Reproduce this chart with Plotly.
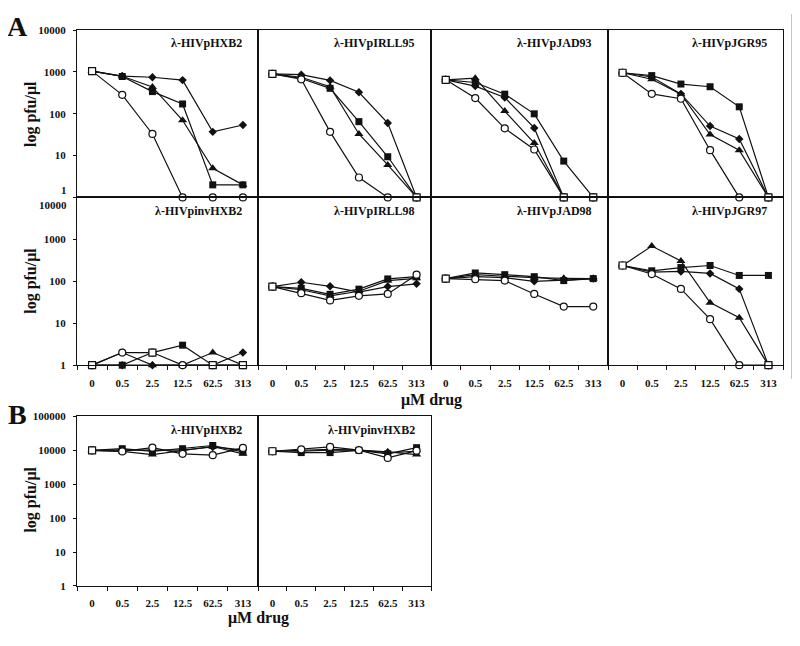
import plotly.graph_objects as go

# The page adds an 8px body margin; the figure is sized so that page == 800x646.
OFF = 8
W, H = 800 - 2 * OFF, 646 - 2 * OFF


def px(x):
    return (x - OFF) / W


def py(y):
    return 1 - (y - OFF) / H


# ---------------- data ----------------
doses = ["0", "0.5", "2.5", "12.5", "62.5", "313"]
xi = [0, 1, 2, 3, 4, 5]

panel_titles = ["λ-HIVpHXB2", "λ-HIVpIRLL95", "λ-HIVpJAD93", "λ-HIVpJGR95",
                "λ-HIVpinvHXB2", "λ-HIVpIRLL98", "λ-HIVpJAD98", "λ-HIVpJGR97",
                "λ-HIVpHXB2", "λ-HIVpinvHXB2"]

# Panel A, row 1
hxb2_dia = [1050, 800, 750, 640, 37, 54]
hxb2_sq = [1050, 780, 340, 172, 2, 2]
hxb2_tri = [1050, 790, 440, 70, 5, 2]
hxb2_circ = [1050, 284, 33, 1, 1, 1]
hxb2_osq = [1050, None, None, None, None, None]

irll95_dia = [900, 865, 630, 328, 60, 1]
irll95_sq = [900, 700, 407, 65, 9.4, 1]
irll95_tri = [900, 750, 444, 33, 6, 1]
irll95_circ = [900, 670, 37, 3, 1, 1]
irll95_osq = [900, None, None, None, None, 1]

jad93_dia = [650, 460, 246, 46, 1, 1]
jad93_sq = [650, 560, 295, 100, 7.4, 1]
jad93_tri = [650, 710, 116, 20, 1, 1]
jad93_circ = [650, 238, 45, 14, 1, 1]
jad93_osq = [650, None, None, None, 1, 1]

jgr95_dia = [960, 760, 300, 51, 25, 1]
jgr95_sq = [960, 820, 515, 444, 147, 1]
jgr95_tri = [960, 672, 295, 32, 13.5, 1]
jgr95_circ = [960, 300, 229, 13.5, 1, 1]
jgr95_osq = [960, None, None, None, None, 1]

# Panel A, row 2
invhxb2_dia = [1, 1, 1, 1, 1, 2]
invhxb2_sq = [1, 1, 2, 3, 1, 1]
invhxb2_tri = [1, 2, 1, 1, 2, 1]
invhxb2_circ = [1, 2, 2, 1, 1, 1]
invhxb2_osq = [1, None, 2, None, 1, 1]

irll98_dia = [75, 95, 76, 55, 75, 87]
irll98_sq = [75, 68, 49, 65, 114, 129]
irll98_tri = [75, 63, 45, 58, 104, 118]
irll98_circ = [75, 52, 35, 45, 50, 144]
irll98_osq = [75, None, None, None, None, None]

jad98_dia = [116, 130, 122, 100, 107, 116]
jad98_sq = [116, 158, 144, 129, 104, 116]
jad98_tri = [116, 145, 132, 122, 118, 116]
jad98_circ = [116, 112, 104, 50, 25, 25]
jad98_osq = [116, None, None, None, None, None]

jgr97_dia = [238, 166, 172, 154, 66, 1]
jgr97_sq = [238, 178, 213, 238, 138, 138]
jgr97_tri = [238, 692, 307, 31, 13.5, 1]
jgr97_circ = [238, 149, 66, 12.5, 1, 1]
jgr97_osq = [238, None, None, None, None, 1]

# Panel B
b_hxb2_dia = [10000, 10400, 10200, 10200, 12600, 10400]
b_hxb2_sq = [10000, 11200, 9300, 11200, 13900, 9000]
b_hxb2_tri = [10000, 9300, 7500, 9800, 13000, 7900]
b_hxb2_circ = [10000, 9300, 12000, 7900, 7200, 11800]
b_hxb2_osq = [10000, None, None, None, None, None]

b_inv_dia = [9400, 9800, 10700, 10200, 8600, 9400]
b_inv_sq = [9400, 8600, 8600, 10000, 7900, 12000]
b_inv_tri = [9400, 9400, 10200, 10200, 9000, 7500]
b_inv_circ = [9400, 10700, 12600, 10200, 6000, 9800]
b_inv_osq = [9400, None, None, None, None, None]

panel_series = [
    (hxb2_dia, hxb2_sq, hxb2_tri, hxb2_circ, hxb2_osq),
    (irll95_dia, irll95_sq, irll95_tri, irll95_circ, irll95_osq),
    (jad93_dia, jad93_sq, jad93_tri, jad93_circ, jad93_osq),
    (jgr95_dia, jgr95_sq, jgr95_tri, jgr95_circ, jgr95_osq),
    (invhxb2_dia, invhxb2_sq, invhxb2_tri, invhxb2_circ, invhxb2_osq),
    (irll98_dia, irll98_sq, irll98_tri, irll98_circ, irll98_osq),
    (jad98_dia, jad98_sq, jad98_tri, jad98_circ, jad98_osq),
    (jgr97_dia, jgr97_sq, jgr97_tri, jgr97_circ, jgr97_osq),
    (b_hxb2_dia, b_hxb2_sq, b_hxb2_tri, b_hxb2_circ, b_hxb2_osq),
    (b_inv_dia, b_inv_sq, b_inv_tri, b_inv_circ, b_inv_osq),
]

# ---------------- layout geometry (page pixels) ----------------
cols_px = [(77, 258), (258, 431), (431, 608), (608, 783)]
rows_px = [(24.5, 195), (195, 366), (418.3, 591)]
panel_pos = [(0, 0), (0, 1), (0, 2), (0, 3),
             (1, 0), (1, 1), (1, 2), (1, 3),
             (2, 0), (2, 1)]

SERIF = "Liberation Serif"
INK = "#111111"

fig = go.Figure()

marker_styles = [
    dict(symbol="diamond", size=6.5, color=INK, line=dict(width=0)),
    dict(symbol="square", size=7, color=INK, line=dict(width=0)),
    dict(symbol="triangle-up", size=8, color=INK, line=dict(width=0)),
    dict(symbol="circle", size=7, color="white", line=dict(width=1.2, color=INK)),
    dict(symbol="square", size=7, color="white", line=dict(width=1.2, color=INK)),
]

layout_axes = {}
annotations = []

for p, ((r, c), series) in enumerate(zip(panel_pos, panel_series)):
    k = p + 1
    xa = "x" if k == 1 else f"x{k}"
    ya = "y" if k == 1 else f"y{k}"
    for s_i, vals in enumerate(series):
        is_osq = s_i == 4
        fig.add_trace(go.Scatter(
            x=xi, y=vals, xaxis=xa, yaxis=ya,
            mode="markers" if is_osq else "lines+markers",
            line=dict(color=INK, width=1.2),
            marker=marker_styles[s_i],
            showlegend=False, hoverinfo="skip", cliponaxis=False,
        ))
    x0, x1 = cols_px[c]
    y0, y1 = rows_px[r]
    xdom = [px(x0), px(x1)]
    ydom = [py(y1), py(y0)]
    bottom_row = r in (1, 2)
    first_col = c == 0
    xkey = "xaxis" if k == 1 else f"xaxis{k}"
    ykey = "yaxis" if k == 1 else f"yaxis{k}"
    xax = dict(domain=xdom, anchor=ya, range=[-0.5, 5.5], showgrid=False,
               zeroline=False, showline=True, mirror=True, linecolor=INK,
               linewidth=1.3, fixedrange=True)
    if bottom_row:
        xax.update(tickmode="array", tickvals=xi, ticktext=doses, ticks="",
                   showticklabels=True, ticklabelstandoff=7,
                   tickfont=dict(family=SERIF, size=11, color=INK, weight="bold"),
                   minor=dict(tickmode="array",
                              tickvals=[-0.5, 0.5, 1.5, 2.5, 3.5, 4.5, 5.5],
                              ticks="outside", ticklen=4, tickwidth=1.2,
                              tickcolor=INK, showgrid=False))
    else:
        xax.update(showticklabels=False, ticks="")
    layout_axes[xkey] = xax

    top = 5 if r == 2 else 4
    yvals = [10 ** e for e in range(top + 1)]
    ytext = [str(v) for v in yvals]
    if r == 0:
        ytext[0] = ""
    if r == 1:
        ytext[-1] = ""
    yax = dict(domain=ydom, anchor=xa, type="log", range=[0, top],
               showgrid=False, zeroline=False, showline=True, mirror=True,
               linecolor=INK, linewidth=1.3, fixedrange=True,
               tickmode="array", tickvals=yvals, ticktext=ytext)
    if first_col:
        yax.update(ticks="outside", ticklen=3, tickwidth=1.2, tickcolor=INK,
                   showticklabels=True, ticklabelstandoff=5,
                   tickfont=dict(family=SERIF, size=11, color=INK, weight="bold"))
    else:
        yax.update(ticks="", showticklabels=False)
    layout_axes[ykey] = yax

    # panel title
    annotations.append(dict(
        text=f"<b>{panel_titles[p]}</b>", xref="paper", yref="paper",
        x=px(x1 - 14), y=py(y0 + 13.5), xanchor="right", yanchor="middle",
        showarrow=False, font=dict(family=SERIF, size=12, color=INK)))

# shifted tick labels at the row boundary
annotations.append(dict(text="<b>1</b>", xref="paper", yref="y", x=px(69), y=0,
                        xanchor="right", yanchor="middle", yshift=7, showarrow=False,
                        font=dict(family=SERIF, size=11, color=INK)))
annotations.append(dict(text="<b>10000</b>", xref="paper", yref="y5", x=px(69), y=4,
                        xanchor="right", yanchor="middle", yshift=-8, showarrow=False,
                        font=dict(family=SERIF, size=11, color=INK)))

# y-axis titles
for yc in (110, 280, 503):
    annotations.append(dict(text="<b>log pfu/μl</b>", xref="paper", yref="paper",
                            x=px(31), y=py(yc), textangle=-90, showarrow=False,
                            xanchor="center", yanchor="middle",
                            font=dict(family=SERIF, size=16, color=INK)))
# x-axis titles
for xc, yc in ((431, 401), (258, 624)):
    annotations.append(dict(text="<b>μM drug</b>", xref="paper", yref="paper",
                            x=px(xc), y=py(yc), xanchor="center", yanchor="middle",
                            showarrow=False,
                            font=dict(family=SERIF, size=16, color=INK)))
# panel letters
for letter, yc in (("A", 21), ("B", 416)):
    annotations.append(dict(text=f"<b>{letter}</b>", xref="paper", yref="paper",
                            x=px(17.5), y=py(yc), xanchor="center", yanchor="middle",
                            showarrow=False,
                            font=dict(family=SERIF, size=28, color=INK)))

fig.update_layout(
    width=W, height=H, margin=dict(l=0, r=0, t=0, b=0),
    paper_bgcolor="white", plot_bgcolor="white",
    annotations=annotations,
    shapes=[dict(type="line", xref="paper", yref="paper",
                 x0=px(792), x1=px(792), y0=py(380), y1=1,
                 line=dict(color="#888888", width=1))],
    **layout_axes,
)

fig.write_html("out.html")
